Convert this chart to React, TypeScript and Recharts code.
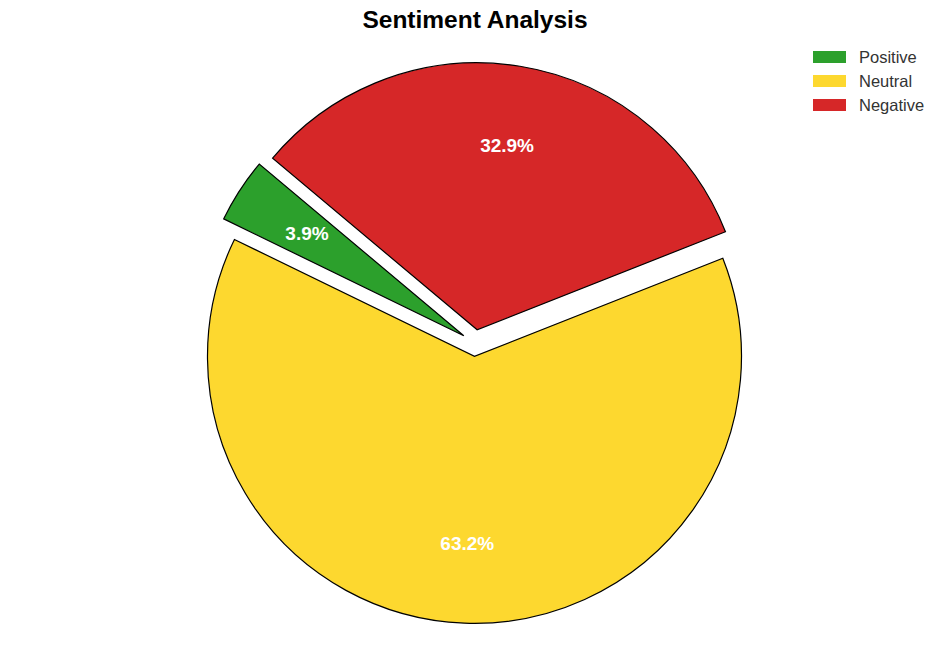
import React from 'react';
import { PieChart, Pie, Cell } from 'recharts';

const categories = ['Positive', 'Neutral', 'Negative'];
const values = [3.9, 63.2, 32.9];
const colors = ['#2ca02c', '#fdd82f', '#d62728'];

const W = 950;
const H = 662;
const CX = 470;
const CY = 338;
const R = 267;
const START = 140;
const EXPLODE = 0.05;
const PCT_DIST = 0.7;
const RAD = Math.PI / 180;

const data = categories.map((name, i) => ({ name, value: values[i] }));
const total = values.reduce((a, b) => a + b, 0);

// mid angle of each slice (derived from the data) for the exploded offset
const midAngles: number[] = [];
{
  let acc = 0;
  values.forEach((v) => {
    const a0 = START + (acc / total) * 360;
    acc += v;
    const a1 = START + (acc / total) * 360;
    midAngles.push((a0 + a1) / 2);
  });
}

const makeLabel = (idx: number) => (props: any) => {
  if (props.index !== idx) return null;
  const { cx, cy, midAngle, outerRadius, percent } = props;
  const r = outerRadius * PCT_DIST;
  const x = cx + r * Math.cos(-midAngle * RAD);
  const y = cy + r * Math.sin(-midAngle * RAD);
  return (
    <text
      x={x}
      y={y}
      fill="#ffffff"
      textAnchor="middle"
      dominantBaseline="central"
      fontSize={19}
      fontWeight="bold"
      fontFamily="Liberation Sans, Arial, sans-serif"
    >
      {(percent * 100).toFixed(1)}%
    </text>
  );
};

export default function App() {
  return (
    <div
      style={{
        position: 'absolute',
        left: 0,
        top: 0,
        width: W,
        height: H,
        background: '#fff',
        fontFamily: 'Liberation Sans, Arial, sans-serif',
      }}
    >
      <div
        style={{
          position: 'absolute',
          left: 0,
          top: 6,
          width: W,
          textAlign: 'center',
          fontSize: 24.5,
          lineHeight: '28px',
          fontWeight: 'bold',
          color: '#000',
        }}
      >
        Sentiment Analysis
      </div>
      <PieChart width={W} height={H}>
        {categories.map((c, idx) => {
          const off = EXPLODE * R;
          const cx = CX + off * Math.cos(midAngles[idx] * RAD);
          const cy = CY - off * Math.sin(midAngles[idx] * RAD);
          return (
            <Pie
              key={c}
              data={data}
              dataKey="value"
              nameKey="name"
              cx={cx}
              cy={cy}
              outerRadius={R}
              innerRadius={0}
              startAngle={START}
              endAngle={START + 360}
              isAnimationActive={false}
              labelLine={false}
              label={makeLabel(idx)}
            >
              {data.map((d, i) => (
                <Cell
                  key={d.name}
                  fill={i === idx ? colors[i] : 'none'}
                  stroke={i === idx ? '#000' : 'none'}
                  strokeWidth={1.2}
                />
              ))}
            </Pie>
          );
        })}
      </PieChart>
      <div style={{ position: 'absolute', left: 813, top: 45 }}>
        {categories.map((c, i) => (
          <div
            key={c}
            style={{ display: 'flex', alignItems: 'center', height: 24 }}
          >
            <div style={{ width: 33, height: 12, background: colors[i] }} />
            <span style={{ marginLeft: 13, fontSize: 16.5, color: '#333' }}>{c}</span>
          </div>
        ))}
      </div>
    </div>
  );
}
